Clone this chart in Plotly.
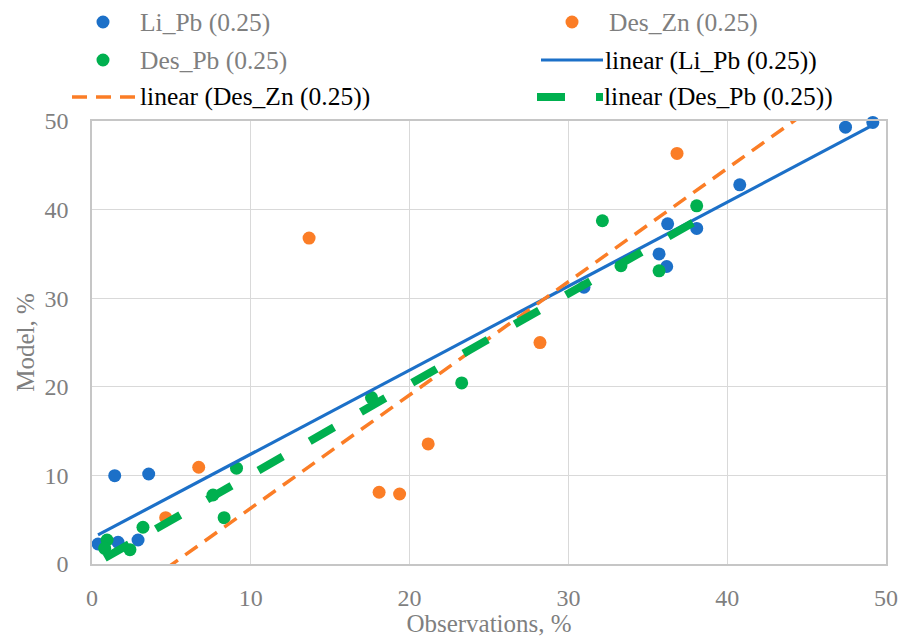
import numpy as np
import plotly.graph_objects as go

# ---------------- data ----------------
li_pb_obs = [0.38, 1.43, 1.64, 2.90, 3.57, 30.98, 35.71, 36.19, 36.25, 38.08, 40.79, 47.45, 49.17]
li_pb_model = [2.26, 9.97, 2.45, 2.71, 10.16, 31.25, 35.00, 33.58, 38.40, 37.87, 42.80, 49.30, 49.84]

des_zn_obs = [4.64, 6.72, 13.67, 18.08, 19.37, 21.17, 28.21, 36.84]
des_zn_model = [5.23, 10.92, 36.79, 8.10, 7.90, 13.55, 24.99, 46.34]

des_pb_obs = [0.95, 0.80, 2.39, 3.21, 7.62, 8.32, 9.10, 17.60, 23.28, 32.14, 33.31, 35.71, 38.08]
des_pb_model = [2.71, 1.77, 1.62, 4.15, 7.79, 5.23, 10.81, 18.78, 20.44, 38.74, 33.66, 33.09, 40.43]

# linear trend lines: [slope, intercept] and x-span
li_pb_trend = [0.948, 2.92]
li_pb_span = [0.38, 49.17]
des_zn_trend = [1.278, -6.48]
des_zn_span = [4.64, 46.0]
des_pb_trend = [1.022, -0.15]
des_pb_span = [0.80, 38.08]

axis_ticks = [0, 10, 20, 30, 40, 50]

series_names = ["Li_Pb (0.25)", "Des_Zn (0.25)", "Des_Pb (0.25)"]
trend_names = ["linear (Li_Pb (0.25))", "linear (Des_Zn (0.25))", "linear (Des_Pb (0.25))"]

# ---------------- styles ----------------
BLUE = "#1c70c8"
ORANGE = "#fb7d26"
GREEN = "#00b04f"
GRAY = "#7f7f7f"
FONT = "Liberation Serif"
W, H = 900, 637
ML, MR, MT, MB = 92, 14, 121, 73
PW, PH = W - ML - MR, H - MT - MB

ZN_DASH = "15px,9px"
PB_DASH = "28px,31px"
LEG_SIZE = 25.5

fig = go.Figure()

for xs, ys, name, col in [
    (li_pb_obs, li_pb_model, series_names[0], BLUE),
    (des_zn_obs, des_zn_model, series_names[1], ORANGE),
    (des_pb_obs, des_pb_model, series_names[2], GREEN),
]:
    fig.add_trace(go.Scatter(
        x=xs, y=ys, mode="markers", name=name, showlegend=False,
        marker=dict(color=col, size=13, line=dict(width=0)),
        cliponaxis=False,
    ))

for coef, span, name, col, width, dash in [
    (li_pb_trend, li_pb_span, trend_names[0], BLUE, 3.2, "solid"),
    (des_zn_trend, des_zn_span, trend_names[1], ORANGE, 3.5, ZN_DASH),
    (des_pb_trend, des_pb_span, trend_names[2], GREEN, 8, PB_DASH),
]:
    xs = np.array(span)
    ys = coef[0] * xs + coef[1]
    fig.add_trace(go.Scatter(
        x=xs, y=ys, mode="lines", name=name, showlegend=False,
        line=dict(color=col, width=width, dash=dash),
    ))


def px_x(p):
    return (p - ML) / PW


def px_y(p):
    return (H - MB - p) / PH


shapes = []
annotations = []


def dot(cx, cy, col, r=6.5):
    shapes.append(dict(type="circle", xref="paper", yref="paper",
                       xsizemode="pixel", ysizemode="pixel",
                       xanchor=px_x(cx), yanchor=px_y(cy),
                       x0=-r, x1=r, y0=-r, y1=r,
                       fillcolor=col, line=dict(width=0)))


def seg(x0, x1, y, col, width, dash):
    shapes.append(dict(type="line", xref="paper", yref="paper",
                       x0=px_x(x0), x1=px_x(x1), y0=px_y(y), y1=px_y(y),
                       line=dict(color=col, width=width, dash=dash)))


def label(x, y, text, col):
    annotations.append(dict(xref="paper", yref="paper", x=px_x(x), y=px_y(y),
                            xanchor="left", yanchor="middle", showarrow=False,
                            text=text, font=dict(family=FONT, size=LEG_SIZE, color=col)))


# legend row 1
dot(103, 22, BLUE)
label(138, 22, series_names[0], GRAY)
dot(572, 22, ORANGE)
label(607, 22, series_names[1], GRAY)
# legend row 2
dot(103, 60, GREEN)
label(138, 60, series_names[2], GRAY)
seg(541, 603, 60, BLUE, 3.2, "solid")
label(603, 60, trend_names[0], "#000000")
# legend row 3
seg(72, 135, 97, ORANGE, 3.5, ZN_DASH)
label(138, 97, trend_names[1], "#000000")
seg(537, 603, 97, GREEN, 8, PB_DASH)
label(602, 97, trend_names[2], "#000000")

axis_common = dict(
    range=[0, 50], tickvals=axis_ticks, ticktext=[str(t) for t in axis_ticks],
    showgrid=True, gridcolor="#d9d9d9", gridwidth=1.4,
    showline=True, linecolor="#c6c6c6", linewidth=1.6, mirror=True,
    zeroline=False, ticks="",
    tickfont=dict(family=FONT, size=24, color=GRAY),
    automargin=False,
)

fig.update_layout(
    width=W, height=H,
    margin=dict(l=ML, r=MR, t=MT, b=MB),
    paper_bgcolor="white", plot_bgcolor="white",
    showlegend=False,
    xaxis=dict(axis_common, ticklabelstandoff=11,
               title=dict(text="Observations, %", standoff=15,
                          font=dict(family=FONT, size=25, color=GRAY))),
    yaxis=dict(axis_common, ticklabelstandoff=17,
               title=dict(text="Model, %", standoff=3,
                          font=dict(family=FONT, size=25, color=GRAY))),
    shapes=shapes,
    annotations=annotations,
)

fig.write_html("out.html",
               config={"displayModeBar": False},
               post_script="document.body.style.margin='0';document.body.style.overflow='hidden';")
